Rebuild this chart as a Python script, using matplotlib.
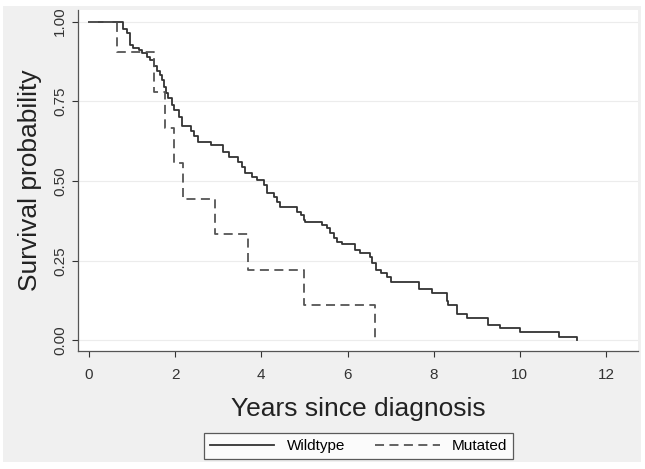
import matplotlib.pyplot as plt
from matplotlib.patches import Rectangle

plt.rcParams['font.family'] = ['Liberation Sans', 'DejaVu Sans']

# Kaplan-Meier step points (time of drop, survival after drop)
wild_t = [0.80, 0.88, 0.95, 1.03, 1.15, 1.24, 1.34, 1.42, 1.50, 1.57,
          1.64, 1.69, 1.74, 1.78, 1.84, 1.92, 1.98, 2.08, 2.16, 2.36,
          2.44, 2.54, 2.83, 3.12, 3.24, 3.45, 3.55, 3.63, 3.78, 3.90,
          4.05, 4.13, 4.29, 4.37, 4.44, 4.83, 4.91, 4.98, 5.02, 5.40,
          5.52, 5.60, 5.68, 5.76, 5.87, 6.17, 6.30, 6.53, 6.57, 6.65,
          6.77, 6.92, 7.00, 7.66, 7.95, 8.32, 8.34, 8.55, 8.77, 9.27,
          9.54, 10.00, 10.92, 11.33]
wild_s = [0.976, 0.963, 0.926, 0.918, 0.910, 0.900, 0.890, 0.880, 0.862, 0.845,
          0.832, 0.817, 0.796, 0.775, 0.760, 0.738, 0.722, 0.700, 0.672, 0.658,
          0.641, 0.623, 0.613, 0.592, 0.576, 0.560, 0.545, 0.526, 0.514, 0.503,
          0.487, 0.461, 0.451, 0.435, 0.419, 0.404, 0.393, 0.378, 0.372, 0.362,
          0.352, 0.336, 0.320, 0.310, 0.302, 0.284, 0.273, 0.263, 0.242, 0.221,
          0.211, 0.200, 0.182, 0.160, 0.148, 0.125, 0.110, 0.082, 0.072, 0.049,
          0.038, 0.026, 0.012, 0.0]

mut_t = [0.65, 1.51, 1.77, 1.98, 2.18, 2.92, 3.68, 4.98, 6.63]
mut_s = [0.905, 0.778, 0.667, 0.556, 0.444, 0.333, 0.222, 0.111, 0.0]

x_ticks = [0, 2, 4, 6, 8, 10, 12]
y_ticks = [0.00, 0.25, 0.50, 0.75, 1.00]

fig = plt.figure(figsize=(6.45, 4.69), dpi=100)
fig.patches.append(Rectangle((0.005, 0.015), 0.989, 0.972, transform=fig.transFigure,
                             facecolor='#f0f0f0', edgecolor='none', zorder=-10))

ax = fig.add_axes([0.121, 0.2516, 0.868, 0.727])
ax.set_zorder(1)
ax.set_facecolor('white')

ax.step([0] + wild_t, [1.0] + wild_s, where='post', color='#333333', lw=1.3,
        label='Wildtype')
ax.step([0] + mut_t, [1.0] + mut_s, where='post', color='#555555', lw=1.3,
        linestyle=(0, (5, 3)), label='Mutated')

ax.set_xlim(-0.255, 12.74)
ax.set_ylim(-0.033, 1.036)
ax.set_xticks(x_ticks)
ax.set_yticks(y_ticks)
ax.set_yticklabels(['%.2f' % v for v in y_ticks], rotation=90, va='center')
ax.tick_params(axis='both', labelsize=11, colors='#333333', length=4,
               width=0.8, pad=4)
ax.tick_params(axis='x', pad=8)
ax.grid(axis='y', color='#ececec', lw=0.8)
ax.set_axisbelow(True)

for s in ['top', 'right']:
    ax.spines[s].set_visible(False)
for s in ['left', 'bottom']:
    ax.spines[s].set_color('#555555')
    ax.spines[s].set_linewidth(0.9)

ax.set_xlabel('Years since diagnosis', fontsize=19, color='#222222', labelpad=11)
ax.set_ylabel('Survival probability', fontsize=19, color='#222222', labelpad=8)

leg = fig.legend(loc='center', bbox_to_anchor=(0.556, 0.049), ncol=2,
                 fontsize=11, frameon=True, fancybox=False, handlelength=4.2,
                 columnspacing=2.0, borderpad=0.4)
leg.set_zorder(2)
leg.get_frame().set_edgecolor('#333333')
leg.get_frame().set_linewidth(0.9)

plt.savefig('out.png', dpi=100, facecolor='white')
